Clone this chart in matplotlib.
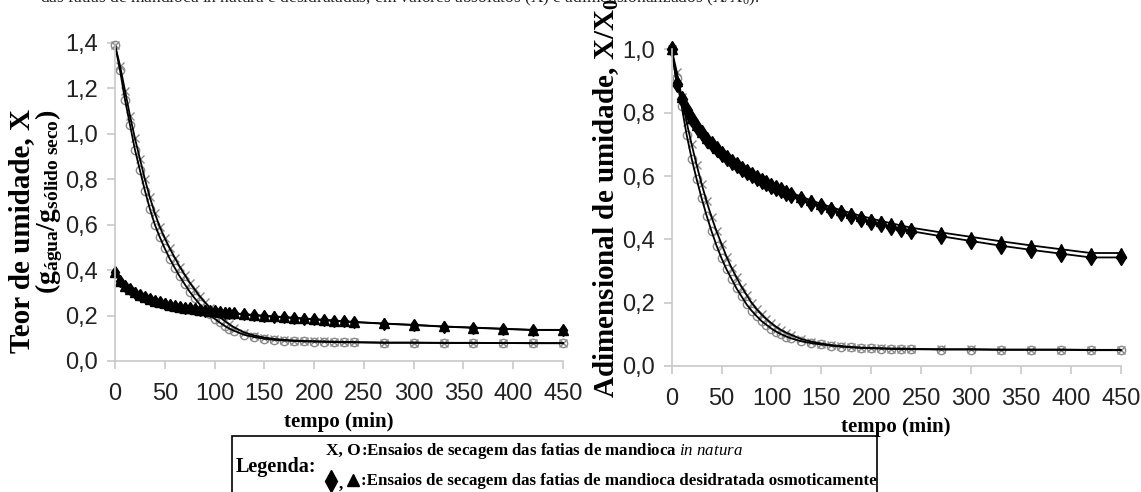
import matplotlib
matplotlib.use("Agg")
import matplotlib.pyplot as plt
from matplotlib.patches import Rectangle
from matplotlib.lines import Line2D

plt.rcParams["mathtext.fontset"] = "custom"
plt.rcParams["mathtext.rm"] = "Liberation Serif"
plt.rcParams["mathtext.bf"] = "Liberation Serif:bold"
plt.rcParams["mathtext.it"] = "Liberation Serif:italic"

# tempo (min)
tempo = [0, 5, 10, 15, 20, 25, 30, 35, 40, 45, 50, 55, 60, 65, 70, 75, 80, 85, 90, 95,
         100, 105, 110, 115, 120, 130, 140, 150, 160, 170, 180, 190, 200, 210, 220, 230,
         240, 270, 300, 330, 360, 390, 420, 450]

# Teor de umidade X - in natura (replicas X e O)
x_nat_x = [1.39, 1.30, 1.19, 1.08, 0.98, 0.89, 0.80, 0.72, 0.65, 0.59, 0.54, 0.495, 0.455,
           0.415, 0.38, 0.345, 0.315, 0.285, 0.26, 0.235, 0.215, 0.195, 0.177, 0.161, 0.147,
           0.125, 0.112, 0.103, 0.097, 0.093, 0.09, 0.088, 0.087, 0.086, 0.085, 0.084,
           0.083, 0.081, 0.081, 0.080, 0.080, 0.079, 0.079, 0.079]
x_nat_o = [1.39, 1.28, 1.15, 1.04, 0.93, 0.84, 0.75, 0.67, 0.60, 0.545, 0.495, 0.45, 0.41,
           0.372, 0.338, 0.305, 0.276, 0.25, 0.226, 0.205, 0.186, 0.17, 0.155, 0.142, 0.132,
           0.115, 0.105, 0.098, 0.093, 0.09, 0.088, 0.086, 0.085, 0.084, 0.083, 0.082, 0.082,
           0.080, 0.080, 0.079, 0.079, 0.079, 0.078, 0.078]
# Teor de umidade X - desidratada osmoticamente (replicas diamante e triangulo)
x_osm_d = [0.39, 0.35, 0.33, 0.315, 0.30, 0.29, 0.28, 0.272, 0.265, 0.258, 0.252, 0.247,
           0.242, 0.238, 0.234, 0.231, 0.228, 0.225, 0.222, 0.22, 0.218, 0.215, 0.213, 0.211,
           0.209, 0.205, 0.201, 0.198, 0.195, 0.192, 0.189, 0.186, 0.183, 0.180, 0.177,
           0.174, 0.171, 0.164, 0.158, 0.151, 0.146, 0.141, 0.136, 0.136]
x_osm_t = [0.39, 0.352, 0.332, 0.317, 0.302, 0.291, 0.281, 0.273, 0.266, 0.259, 0.253,
           0.248, 0.243, 0.239, 0.235, 0.232, 0.229, 0.226, 0.223, 0.221, 0.219, 0.216,
           0.214, 0.212, 0.21, 0.206, 0.202, 0.199, 0.196, 0.193, 0.19, 0.187, 0.184, 0.181,
           0.178, 0.175, 0.172, 0.165, 0.159, 0.152, 0.147, 0.142, 0.137, 0.137]

# Adimensional X/X0 - in natura
r_nat_x = [1.0, 0.93, 0.85, 0.77, 0.70, 0.635, 0.575, 0.52, 0.47, 0.425, 0.385, 0.345, 0.31,
           0.28, 0.25, 0.225, 0.20, 0.18, 0.163, 0.148, 0.135, 0.123, 0.113, 0.105, 0.098,
           0.085, 0.077, 0.071, 0.066, 0.063, 0.06, 0.058, 0.057, 0.056, 0.055, 0.055, 0.054,
           0.053, 0.053, 0.052, 0.052, 0.052, 0.051, 0.051]
r_nat_o = [1.0, 0.91, 0.82, 0.73, 0.655, 0.59, 0.53, 0.475, 0.425, 0.38, 0.34, 0.305, 0.275,
           0.245, 0.22, 0.195, 0.175, 0.158, 0.142, 0.13, 0.118, 0.108, 0.10, 0.093, 0.087,
           0.078, 0.072, 0.068, 0.064, 0.061, 0.059, 0.057, 0.056, 0.055, 0.054, 0.053,
           0.053, 0.052, 0.052, 0.051, 0.051, 0.051, 0.05, 0.05]
# Adimensional X/X0 - desidratada osmoticamente
r_osm_d = [1.0, 0.89, 0.845, 0.81, 0.78, 0.755, 0.735, 0.715, 0.70, 0.685, 0.67, 0.658,
           0.646, 0.635, 0.624, 0.614, 0.604, 0.595, 0.586, 0.578, 0.57, 0.562, 0.555,
           0.548, 0.541, 0.528, 0.516, 0.505, 0.494, 0.484, 0.474, 0.465, 0.456, 0.448,
           0.44, 0.433, 0.426, 0.41, 0.395, 0.38, 0.367, 0.355, 0.343, 0.343]
r_osm_t = [1.0, 0.90, 0.85, 0.815, 0.785, 0.76, 0.74, 0.72, 0.705, 0.69, 0.676, 0.663,
           0.651, 0.64, 0.629, 0.619, 0.609, 0.60, 0.591, 0.583, 0.575, 0.567, 0.56, 0.553,
           0.547, 0.535, 0.523, 0.512, 0.502, 0.492, 0.483, 0.474, 0.466, 0.458, 0.451,
           0.444, 0.437, 0.422, 0.408, 0.394, 0.381, 0.369, 0.357, 0.357]

xticks = [0, 50, 100, 150, 200, 250, 300, 350, 400, 450]
yticks_abs = [0.0, 0.2, 0.4, 0.6, 0.8, 1.0, 1.2, 1.4]
ylabels_abs = ["0,0", "0,2", "0,4", "0,6", "0,8", "1,0", "1,2", "1,4"]
yticks_adim = [0.0, 0.2, 0.4, 0.6, 0.8, 1.0]
ylabels_adim = ["0,0", "0,2", "0,4", "0,6", "0,8", "1,0"]

tick_font = dict(family=["Liberation Sans Narrow", "Liberation Sans"], size=17)
serif = ["Liberation Serif", "DejaVu Serif"]

fig = plt.figure(figsize=(11.41, 4.92), dpi=100)
ax1 = fig.add_axes([0.1008, 0.2663, 0.3926, 0.6467])
ax2 = fig.add_axes([0.5887, 0.2561, 0.3935, 0.6433])


def draw_series(ax, y_x, y_o, y_d, y_t, d_size):
    grey = "#8a8a8a"
    ax.plot(tempo, y_x, ls="none", marker="x", ms=6, mew=1.0, color=grey, clip_on=False)
    ax.plot(tempo, y_o, ls="none", marker="o", ms=6, mew=1.0, mfc="none", mec=grey,
            clip_on=False)
    ax.plot(tempo, y_d, ls="none", marker="d", ms=d_size, color="black", clip_on=False)
    ax.plot(tempo, y_t, ls="none", marker="^", ms=7, color="black", clip_on=False)
    for y in (y_x, y_o, y_d, y_t):
        ax.plot(tempo, y, color="black", lw=1.3, clip_on=False)


def style_axes(ax, yt, yl, ymax):
    ax.set_xlim(0, 450)
    ax.set_ylim(0, ymax)
    ax.set_xticks(xticks)
    ax.set_xticklabels([str(v) for v in xticks], **tick_font)
    ax.set_yticks(yt)
    ax.set_yticklabels(yl, **tick_font)
    for s in ("top", "right"):
        ax.spines[s].set_visible(False)
    for s in ("left", "bottom"):
        ax.spines[s].set_color("#c8c8c8")
        ax.spines[s].set_linewidth(1.2)
    ax.tick_params(direction="out", length=6, width=1.2, color="#c8c8c8",
                   labelcolor="#222222", pad=6)
    ax.tick_params(axis="x", pad=10)
    ax.set_xlabel("tempo (min)", family=serif, weight="bold", size=15, labelpad=5)


draw_series(ax1, x_nat_x, x_nat_o, x_osm_d, x_osm_t, 6)
style_axes(ax1, yticks_abs, ylabels_abs, 1.4)
draw_series(ax2, r_nat_x, r_nat_o, r_osm_d, r_osm_t, 8)
style_axes(ax2, yticks_adim, ylabels_adim, 1.0)

# y labels
fig.text(0.019, 0.53, "Teor de umidade, X", rotation=90, ha="center", va="center",
         family=serif, weight="bold", size=21)
fig.text(0.043, 0.59, r"(g$_{\mathbf{água}}$/g$_{\mathbf{sólido\ seco}}$)", rotation=90,
         ha="center", va="center", family=serif, weight="bold", size=20)
fig.text(0.531, 0.598, r"Adimensional de umidade, X/X$_{\mathbf{0}}$", rotation=90,
         ha="center", va="center", family=serif, weight="bold", size=21)

# caption cut off at the top of the page
fig.text(0.035, 1.004, r"das fatias de mandioca in natura e desidratadas, em valores absolutos "
         r"(X) e adimensionalizados (X/X$_0$).", ha="left", va="center", family=serif,
         size=12.5, color="#222222")

# legend box
fig.add_artist(Rectangle((232 / 1141, -0.05), 645 / 1141, 0.05 + 1 - 436 / 492,
                         transform=fig.transFigure, fill=False, lw=1.2, ec="black"))
fig.text(236 / 1141, 1 - 467 / 492, "Legenda:", ha="left", va="center", family=serif,
         weight="bold", size=14.5)
colon_x = 361 / 1141
y1 = 1 - 451 / 492
y2 = 1 - 481 / 492
fig.text(colon_x, y1, "X, O", ha="right", va="center", family=serif, weight="bold",
         size=12.5)
fig.text(colon_x, y1,
         r":Ensaios de secagem das fatias de mandioca $\mathit{in\ natura}$",
         ha="left", va="center", family=serif, weight="bold", size=12.2)
fig.add_artist(Line2D([331 / 1141], [y2], marker="d", ms=11, color="black",
                      transform=fig.transFigure))
fig.text(339 / 1141, y2 - 0.008, ",", ha="left", va="center", family=serif,
         weight="bold", size=12.5)
fig.add_artist(Line2D([353 / 1141], [y2 + 0.002], marker="^", ms=9, color="black",
                      transform=fig.transFigure))
fig.text(colon_x, y2,
         ":Ensaios de secagem das fatias de mandioca desidratada osmoticamente",
         ha="left", va="center", family=serif, weight="bold", size=12.2)

fig.savefig("out.png", dpi=100)
